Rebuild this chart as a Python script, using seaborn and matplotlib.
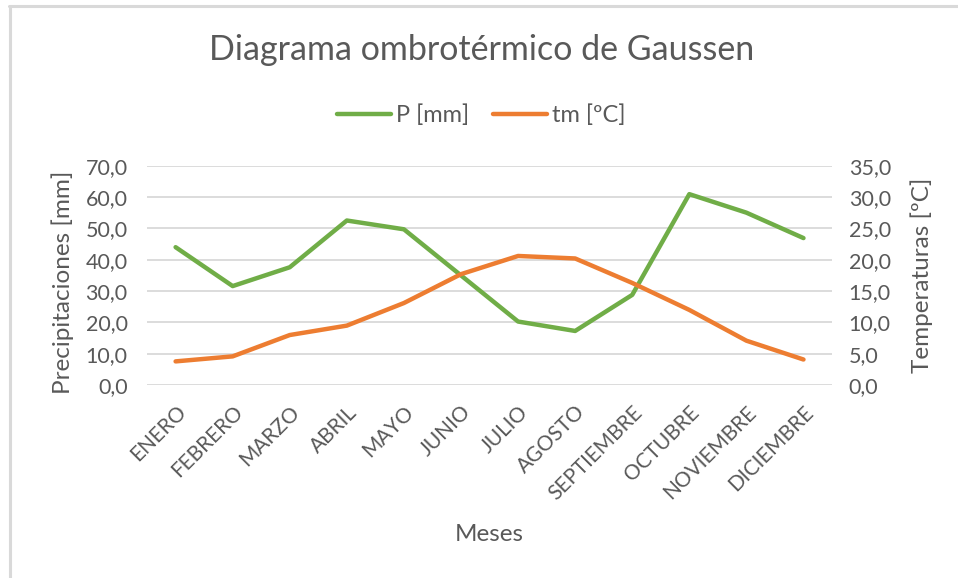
import pandas as pd
import seaborn as sns
import matplotlib.pyplot as plt
from matplotlib.ticker import FuncFormatter
from matplotlib.lines import Line2D

# datos
meses = ['ENERO', 'FEBRERO', 'MARZO', 'ABRIL', 'MAYO', 'JUNIO', 'JULIO',
         'AGOSTO', 'SEPTIEMBRE', 'OCTUBRE', 'NOVIEMBRE', 'DICIEMBRE']
precipitacion = [44.0, 31.6, 37.6, 52.5, 49.7, 35.0, 20.3, 17.3, 28.8, 60.9, 55.0, 46.9]
temperatura = [3.8, 4.6, 8.0, 9.5, 13.1, 17.7, 20.6, 20.2, 16.3, 12.0, 7.1, 4.1]

verde = '#70AD47'
naranja = '#ED7D31'
gris = '#595959'

sns.set_style('white')
plt.rcParams['font.family'] = ['Lato', 'DejaVu Sans']

df = pd.DataFrame({'mes': meses, 'P': precipitacion, 'tm': temperatura})

fig = plt.figure(figsize=(9.58, 5.78), dpi=100)
ax = fig.add_axes([0.1535, 0.3335, 0.715, 0.38])
ax2 = ax.twinx()

sns.lineplot(data=df, x='mes', y='P', ax=ax, color=verde, linewidth=3.2,
             sort=False, solid_capstyle='round')
sns.lineplot(data=df, x='mes', y='tm', ax=ax2, color=naranja, linewidth=3.2,
             sort=False, solid_capstyle='round')

ax.set_xlim(-0.5, len(meses) - 0.5)
ax.set_ylim(0, 70)
ax2.set_ylim(0, 35)
ax.set_yticks(range(0, 71, 10))
ax2.set_yticks(range(0, 36, 5))
coma = FuncFormatter(lambda v, p: f'{v:.1f}'.replace('.', ','))
ax.yaxis.set_major_formatter(coma)
ax2.yaxis.set_major_formatter(coma)

ax.grid(axis='y', color='#D9D9D9', linewidth=1.3)
ax.set_axisbelow(True)
for a in (ax, ax2):
    for s in a.spines.values():
        s.set_visible(False)
    a.tick_params(length=0, colors=gris, labelsize=15.5)

ax.set_xticks(range(len(meses)))
ax.set_xticklabels(meses, rotation=45, ha='right', rotation_mode='anchor', fontsize=15)
ax.tick_params(axis='x', pad=12)
ax.tick_params(axis='y', pad=14)
ax2.tick_params(axis='y', pad=12)

ax.set_xlabel('Meses', fontsize=17.5, color=gris)
ax.set_ylabel('Precipitaciones [mm]', fontsize=17.5, color=gris)
ax2.set_ylabel('Temperaturas [ºC]', fontsize=17.5, color=gris)
ax.xaxis.set_label_coords(0.5, -0.63)
ax.yaxis.set_label_coords(-0.107, 0.47)
ax2.yaxis.set_label_coords(1.115, 0.5)

fig.text(0.503, 0.913, 'Diagrama ombrotérmico de Gaussen', ha='center',
         va='center', fontsize=24.5, color=gris)

handles = [Line2D([], [], color=verde, linewidth=3.2),
           Line2D([], [], color=naranja, linewidth=3.2)]
fig.legend(handles, ['P [mm]', 'tm [ºC]'], loc='center', bbox_to_anchor=(0.502, 0.801),
           ncol=2, frameon=False, fontsize=17, labelcolor=gris,
           handlelength=2.3, handletextpad=0.2, columnspacing=1.0)

# marco del area del grafico
fig.add_artist(Line2D([8.5 / 958, 1], [1 - 6 / 578, 1 - 6 / 578], color='#D9D9D9',
                      linewidth=2.2, transform=fig.transFigure))
fig.add_artist(Line2D([9.5 / 958, 9.5 / 958], [0, 1 - 6 / 578], color='#D9D9D9',
                      linewidth=2.2, transform=fig.transFigure))

fig.savefig('out.png', dpi=100, facecolor='white')
